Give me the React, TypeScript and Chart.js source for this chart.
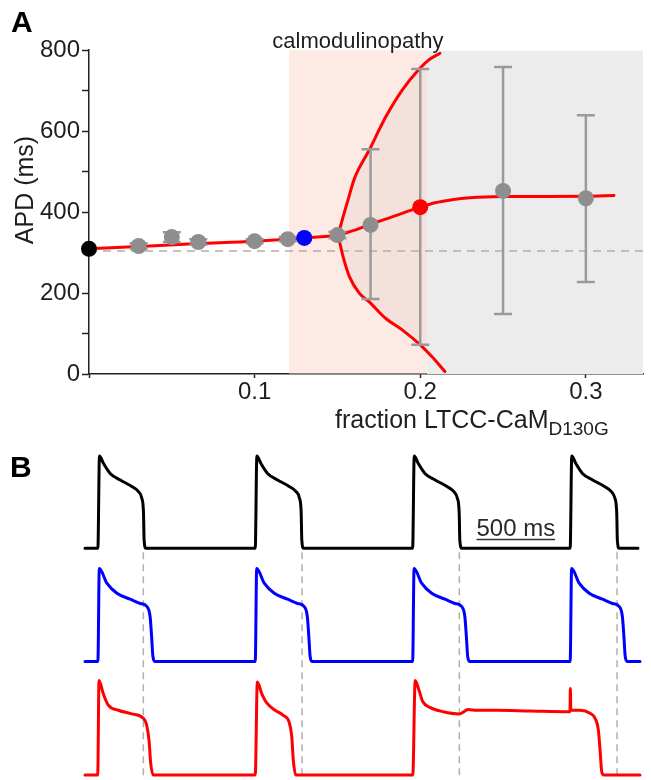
import { useEffect, useRef } from 'react';
import { Chart, registerables } from 'chart.js';

Chart.register(...registerables);

const FONT_FAMILY = '"Liberation Sans", Arial, Helvetica, sans-serif';
const TEXT_COLOR = '#1e1e1e';
const AXIS_COLOR = '#222222';
const RED = '#ff0000';
const BLUE = '#0000ff';
const BLACK = '#000000';
const GRAY_POINT = '#8e8e8e';
const GRAY_BAR = '#9a9a9a';
const SHADE_PINK = 'rgba(251, 213, 201, 0.5)';
const SHADE_GRAY = '#ececec';
const DASH_GRAY = '#b0b0b0';

// ---------------- Panel A: APD vs fraction of LTCC bound to CaM D130G ----------------
const fractionTicks = [0, 0.1, 0.2, 0.3];
const fractionTickLabels = ['', '0.1', '0.2', '0.3'];
const fractionMax = 0.3345;
const apdMax = 800;
const apdTickStep = 100;
const apdLabelEvery = 200;

// stable branch of the model
const stableFraction = [0, 0.03, 0.066, 0.1, 0.13, 0.15, 0.161, 0.17, 0.183, 0.2, 0.209, 0.219, 0.23, 0.25, 0.3, 0.317];
const stableApd = [309, 315, 322, 328, 336, 343, 356, 370, 388, 412, 423, 430, 435, 438, 439, 441];

// alternans branches after the bifurcation
const upperFraction = [0.1504, 0.1534, 0.1564, 0.1603, 0.1692, 0.1792, 0.1891, 0.1994, 0.205, 0.2119];
const upperApd = [343, 388, 430, 483, 553, 635, 701, 753, 775, 792];
const lowerFraction = [0.1504, 0.1534, 0.1573, 0.1633, 0.1692, 0.1792, 0.1891, 0.2, 0.207, 0.2149];
const lowerApd = [343, 290, 240, 199, 178, 137, 109, 72, 43, 6];

// simulated tissue means
const simFraction = [0.03, 0.05, 0.066, 0.1, 0.12, 0.15, 0.17, 0.25, 0.3];
const simApd = [316, 338, 326, 328, 333, 343, 368, 452, 434];

// spread of APD (min / max)
const errFraction = [0.03, 0.05, 0.066, 0.1, 0.12, 0.15, 0.17, 0.2, 0.25, 0.3];
const errLow = [309, 326, 319, 323, 328, 335, 185, 72, 148, 227];
const errHigh = [323, 350, 333, 333, 338, 351, 555, 753, 758, 639];

const controlFraction = [0];
const controlApd = [309];
const blueFraction = [0.13];
const blueApd = [336];
const redFraction = [0.2];
const redApd = [412];

const controlApdLevel = 304;
const calmodulinopathyRange = [0.1208, 0.204];
const unstableStart = 0.204;
const shadeTop = 798;

// ---------------- Panel B: action potential traces (time ms, voltage mV) ----------------
const blackTrace: [number, number][] = [
  [0, -86], [82, -86], [92, 41], [117, 31], [160, 17], [224, 8], [298, -1], [340, -8], [361, -17], [372, -37], [376, -75], [387, -86],
  [1083, -86], [1093, 41], [1118, 31], [1161, 17], [1225, 8], [1299, -1], [1342, -8], [1364, -17], [1375, -37], [1379, -75], [1390, -86],
  [2084, -86], [2094, 41], [2119, 31], [2162, 17], [2227, 8], [2302, -1], [2346, -8], [2368, -17], [2380, -37], [2384, -75], [2396, -86],
  [3086, -86], [3096, 41], [3121, 31], [3164, 17], [3229, 8], [3304, -1], [3348, -8], [3370, -17], [3382, -37], [3386, -75], [3397, -86],
  [3517, -86],
];

const blueTrace: [number, number][] = [
  [0, -86], [82, -86], [91, 42], [139, 22], [203, 8], [287, 0], [351, -6], [393, -10], [414, -24], [425, -56], [432, -79], [446, -86],
  [1083, -86], [1092, 42], [1140, 22], [1204, 8], [1288, 0], [1352, -6], [1393, -10], [1414, -24], [1425, -56], [1432, -79], [1446, -86],
  [2084, -86], [2093, 42], [2141, 22], [2205, 8], [2289, 0], [2353, -6], [2395, -10], [2416, -24], [2427, -56], [2434, -79], [2448, -86],
  [3086, -86], [3095, 42], [3143, 22], [3207, 8], [3291, 0], [3355, -6], [3397, -10], [3418, -24], [3429, -56], [3436, -79], [3451, -86],
  [3530, -86],
];

const redTrace: [number, number][] = [
  [0, -86], [81, -86], [89, 44], [116, 26], [148, 10], [212, 3], [297, -2], [371, -8], [392, -17], [407, -38], [418, -70], [434, -86],
  [1083, -86], [1096, 42], [1124, 26], [1156, 13], [1209, 3], [1261, -4], [1298, -13], [1315, -33], [1325, -66], [1340, -86],
  [2085, -86], [2100, 44], [2124, 31], [2148, 15], [2194, 7], [2279, 1], [2381, -2], [2438, 4], [2491, 3], [2619, 3], [2830, 2],
  [3085, 1], [3087, 33], [3090, 3], [3149, 3], [3212, -1], [3244, -8], [3265, -24], [3276, -52], [3287, -82], [3301, -86],
  [3530, -86],
];

const controlRepolTimes = [371, 1380, 2381, 3384];
const restingPotential = -86;
const scaleBarTimes = [2490, 2990];
const scaleBarLevel = -74;
const scaleBarLabel = '500 ms';
const timeMax = 3600;
const voltageMin = -93;
const voltageMax = 63;

const toPoints = (xs: number[], ys: number[]) => xs.map((x, i) => ({ x, y: ys[i] }));
const tracePoints = (trace: [number, number][]) => trace.map(([x, y]) => ({ x, y }));

function drawApdChart(canvas: HTMLCanvasElement) {
  const grayPointsIndex = 8;

  const errorBars = {
    id: 'apdErrorBars',
    beforeDatasetDraw(chart: any, args: any) {
      if (args.index !== grayPointsIndex) return;
      const { ctx } = chart;
      const x = chart.scales.x;
      const y = chart.scales.y;
      ctx.save();
      ctx.strokeStyle = GRAY_BAR;
      ctx.lineWidth = 2.5;
      errFraction.forEach((f, i) => {
        const px = x.getPixelForValue(f);
        const top = y.getPixelForValue(errHigh[i]);
        const bot = y.getPixelForValue(errLow[i]);
        ctx.beginPath();
        ctx.moveTo(px, top);
        ctx.lineTo(px, bot);
        ctx.moveTo(px - 9, top);
        ctx.lineTo(px + 9, top);
        ctx.moveTo(px - 9, bot);
        ctx.lineTo(px + 9, bot);
        ctx.stroke();
      });
      ctx.restore();
    },
  };

  const labels = {
    id: 'apdLabels',
    afterDraw(chart: any) {
      const { ctx } = chart;
      const x = chart.scales.x;
      ctx.save();
      ctx.fillStyle = '#000';
      ctx.textBaseline = 'alphabetic';
      ctx.textAlign = 'left';
      ctx.font = `bold 30px ${FONT_FAMILY}`;
      ctx.fillText('A', 11, 32);

      ctx.fillStyle = TEXT_COLOR;
      ctx.font = `22px ${FONT_FAMILY}`;
      ctx.textAlign = 'center';
      const mid = (x.getPixelForValue(calmodulinopathyRange[0]) + x.getPixelForValue(calmodulinopathyRange[1])) / 2;
      ctx.fillText('calmodulinopathy', mid, 48);

      ctx.save();
      ctx.translate(33, 190);
      ctx.rotate(-Math.PI / 2);
      ctx.font = `25px ${FONT_FAMILY}`;
      ctx.fillText('APD (ms)', 0, 0);
      ctx.restore();

      ctx.textAlign = 'left';
      ctx.font = `25px ${FONT_FAMILY}`;
      const main = 'fraction LTCC-CaM';
      ctx.fillText(main, 335, 428);
      const w = ctx.measureText(main).width;
      ctx.font = `19px ${FONT_FAMILY}`;
      ctx.fillText('D130G', 335 + w, 435);
      ctx.restore();
    },
  };

  const shadeDefaults = { borderWidth: 0, pointRadius: 0, tension: 0, clip: false as const };
  const redLine = {
    borderColor: RED,
    borderWidth: 3,
    pointRadius: 0,
    cubicInterpolationMode: 'monotone' as const,
    fill: false,
    clip: false as const,
    borderCapStyle: 'round' as const,
  };

  return new Chart(canvas, {
    type: 'line',
    data: {
      datasets: [
        // 0: unstable (alternans) region beyond the calmodulinopathy band
        { ...shadeDefaults, data: toPoints([unstableStart, fractionMax], [shadeTop, shadeTop]), fill: 'origin', backgroundColor: SHADE_GRAY, order: 21 },
        // 1-2: inside the fork, between the two branches
        { ...shadeDefaults, data: toPoints(upperFraction, upperApd), fill: 2, backgroundColor: SHADE_GRAY, cubicInterpolationMode: 'monotone', order: 20 },
        { ...shadeDefaults, data: toPoints(lowerFraction, lowerApd), fill: false, cubicInterpolationMode: 'monotone', order: 19.5 },
        // 3: calmodulinopathy band
        { ...shadeDefaults, data: toPoints(calmodulinopathyRange, [apdMax, apdMax]), fill: 'origin', backgroundColor: SHADE_PINK, order: 19 },
        {
          data: toPoints([0, fractionMax], [controlApdLevel, controlApdLevel]),
          borderColor: DASH_GRAY, borderWidth: 1.5, borderDash: [8, 6], pointRadius: 0, fill: false, clip: false, order: 17,
        },
        { ...redLine, data: toPoints(upperFraction, upperApd), order: 16 },
        { ...redLine, data: toPoints(lowerFraction, lowerApd), order: 15 },
        { ...redLine, data: toPoints(stableFraction, stableApd), order: 14 },
        {
          data: toPoints(simFraction, simApd), showLine: false, pointRadius: 8, pointBorderWidth: 0,
          pointBackgroundColor: GRAY_POINT, clip: false, order: 3,
        },
        { data: toPoints(redFraction, redApd), showLine: false, pointRadius: 8, pointBorderWidth: 0, pointBackgroundColor: RED, clip: false, order: 2 },
        { data: toPoints(blueFraction, blueApd), showLine: false, pointRadius: 8, pointBorderWidth: 0, pointBackgroundColor: BLUE, clip: false, order: 1 },
        { data: toPoints(controlFraction, controlApd), showLine: false, pointRadius: 8, pointBorderWidth: 0, pointBackgroundColor: BLACK, clip: false, order: 0 },
      ],
    },
    options: {
      responsive: false,
      animation: false,
      events: [],
      layout: { padding: { top: 50, left: 0, right: 0, bottom: 0 } },
      plugins: { legend: { display: false }, tooltip: { enabled: false } },
      scales: {
        x: {
          type: 'linear',
          min: 0,
          max: fractionMax,
          afterBuildTicks: (scale: any) => {
            scale.ticks = fractionTicks.map((value) => ({ value }));
          },
          afterFit: (scale: any) => {
            scale.height = 66;
          },
          ticks: {
            autoSkip: false,
            maxRotation: 0,
            padding: 0,
            color: TEXT_COLOR,
            font: { family: FONT_FAMILY, size: 24 },
            callback: (_v: any, i: number) => fractionTickLabels[i],
          },
          grid: { drawOnChartArea: false, tickLength: 4, tickWidth: 1.5, tickColor: AXIS_COLOR },
          border: { color: AXIS_COLOR, width: 1.5 },
        },
        y: {
          type: 'linear',
          min: 0,
          max: apdMax,
          afterFit: (scale: any) => {
            scale.width = 89;
          },
          ticks: {
            stepSize: apdTickStep,
            padding: 2,
            color: TEXT_COLOR,
            font: { family: FONT_FAMILY, size: 24 },
            callback: (v: any) => (Number(v) % apdLabelEvery === 0 ? String(v) : ''),
          },
          grid: { drawOnChartArea: false, tickLength: 7, tickWidth: 1.5, tickColor: AXIS_COLOR },
          border: { color: AXIS_COLOR, width: 1.5 },
        },
      },
    },
    plugins: [errorBars, labels],
  } as any);
}

function drawTraceChart(canvas: HTMLCanvasElement) {
  // stacked voltage axes; lower layout weight sits lower in the stack
  const traceAxis = (weight: number) => ({
    type: 'linear',
    display: false,
    position: 'left',
    stack: 'traces',
    stackWeight: 1,
    weight,
    min: voltageMin,
    max: voltageMax,
  });

  const overlays = {
    id: 'traceOverlays',
    beforeDatasetsDraw(chart: any) {
      const { ctx } = chart;
      const x = chart.scales.x;
      const top = chart.scales.yBlack.getPixelForValue(restingPotential) + 4;
      const bottom = chart.scales.yRed.getPixelForValue(restingPotential) + 3;
      ctx.save();
      ctx.strokeStyle = DASH_GRAY;
      ctx.lineWidth = 1.5;
      ctx.setLineDash([7, 5]);
      controlRepolTimes.forEach((t) => {
        const px = x.getPixelForValue(t);
        ctx.beginPath();
        ctx.moveTo(px, top);
        ctx.lineTo(px, bottom);
        ctx.stroke();
      });
      ctx.restore();
    },
    afterDraw(chart: any) {
      const { ctx } = chart;
      const x = chart.scales.x;
      ctx.save();
      ctx.fillStyle = '#000';
      ctx.textBaseline = 'alphabetic';
      ctx.textAlign = 'left';
      ctx.font = `bold 30px ${FONT_FAMILY}`;
      ctx.fillText('B', 10, 37);

      ctx.fillStyle = '#2a2a2a';
      ctx.font = `24px ${FONT_FAMILY}`;
      ctx.textAlign = 'center';
      const mid = (x.getPixelForValue(scaleBarTimes[0]) + x.getPixelForValue(scaleBarTimes[1])) / 2;
      ctx.fillText(scaleBarLabel, mid, chart.scales.yBlack.getPixelForValue(scaleBarLevel) - 4);
      ctx.restore();
    },
  };

  const trace = (color: string, axis: string, data: [number, number][]) => ({
    data: tracePoints(data),
    yAxisID: axis,
    borderColor: color,
    borderWidth: 3,
    pointRadius: 0,
    cubicInterpolationMode: 'monotone' as const,
    borderJoinStyle: 'round' as const,
    borderCapStyle: 'round' as const,
    fill: false,
    clip: false as const,
  });

  return new Chart(canvas, {
    type: 'line',
    data: {
      datasets: [
        trace(BLACK, 'yBlack', blackTrace),
        trace(BLUE, 'yBlue', blueTrace),
        trace(RED, 'yRed', redTrace),
        {
          data: toPoints(scaleBarTimes, [scaleBarLevel, scaleBarLevel]),
          yAxisID: 'yBlack',
          borderColor: '#333333',
          borderWidth: 1.5,
          pointRadius: 0,
          fill: false,
          clip: false,
        },
      ],
    },
    options: {
      responsive: false,
      animation: false,
      events: [],
      layout: { padding: { top: 0, left: 85, right: 0, bottom: 0 } },
      plugins: { legend: { display: false }, tooltip: { enabled: false } },
      scales: {
        x: { type: 'linear', display: false, min: 0, max: timeMax },
        yBlack: traceAxis(3),
        yBlue: traceAxis(2),
        yRed: traceAxis(1),
      },
    },
    plugins: [overlays],
  } as any);
}

export default function App() {
  const apdRef = useRef<HTMLCanvasElement | null>(null);
  const traceRef = useRef<HTMLCanvasElement | null>(null);

  useEffect(() => {
    if (!apdRef.current || !traceRef.current) return;
    const a = drawApdChart(apdRef.current);
    const b = drawTraceChart(traceRef.current);
    return () => {
      a.destroy();
      b.destroy();
    };
  }, []);

  return (
    <div style={{ position: 'absolute', left: 0, top: 0, width: 651, height: 780, background: '#ffffff', overflow: 'hidden' }}>
      <canvas ref={apdRef} width={651} height={440} style={{ position: 'absolute', left: 0, top: 0, display: 'block' }} />
      <canvas ref={traceRef} width={651} height={340} style={{ position: 'absolute', left: 0, top: 440, display: 'block' }} />
    </div>
  );
}
